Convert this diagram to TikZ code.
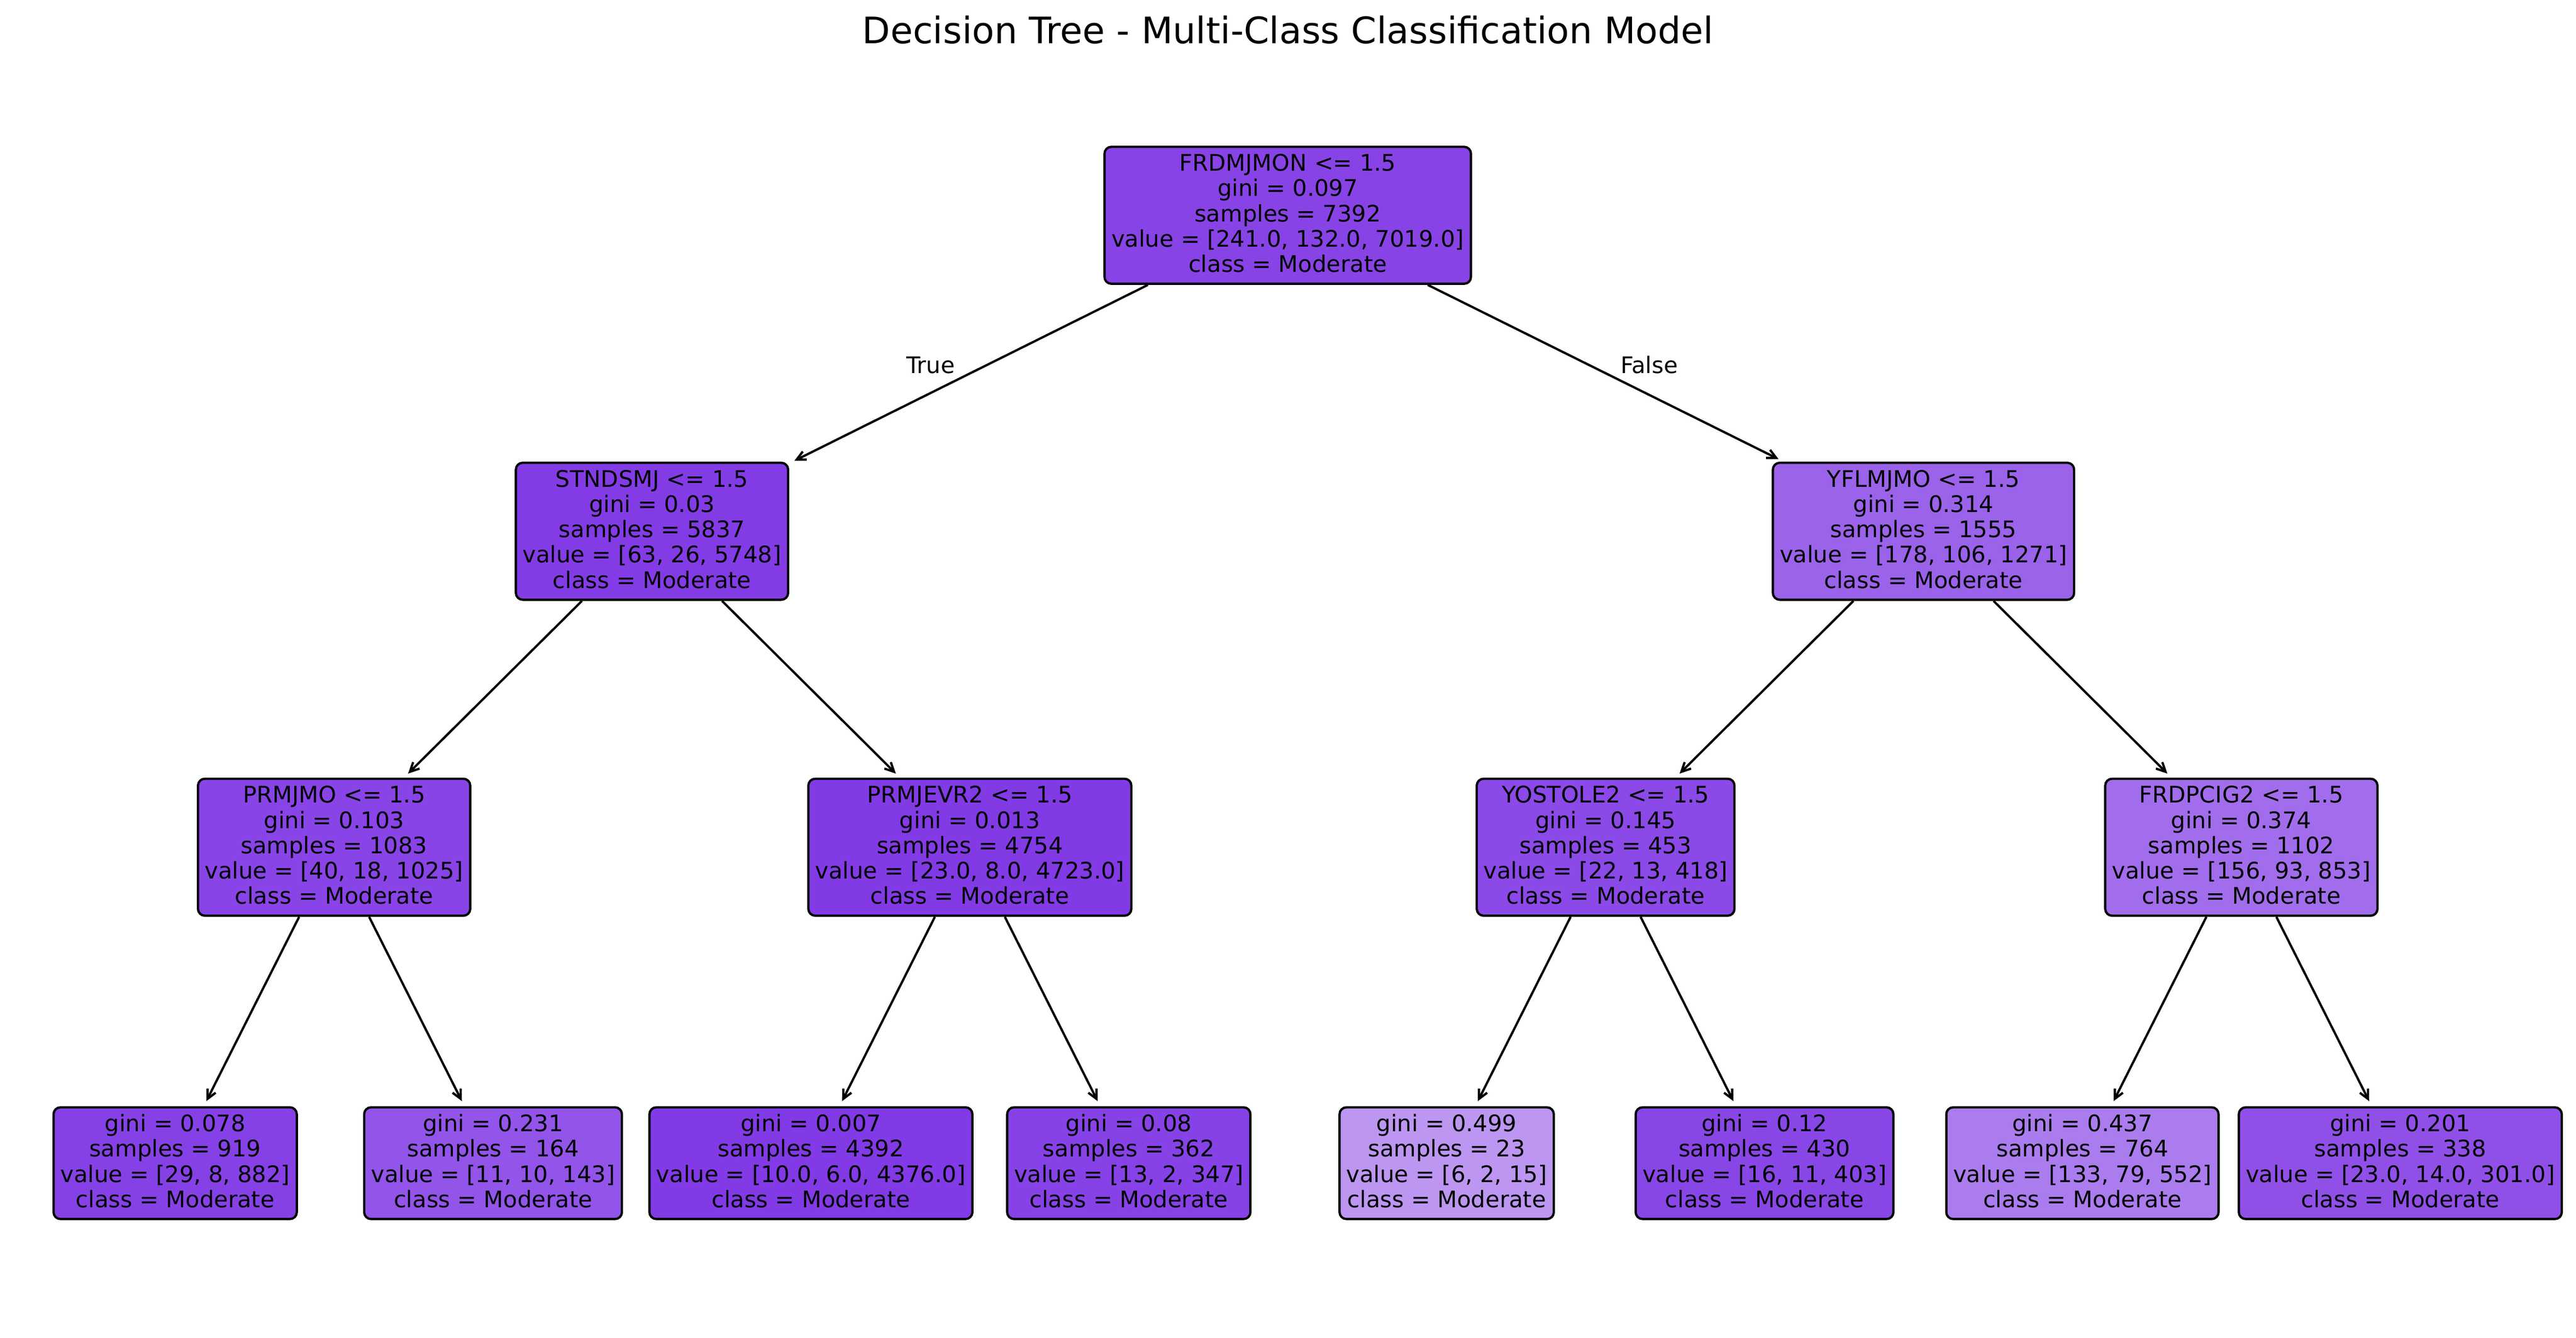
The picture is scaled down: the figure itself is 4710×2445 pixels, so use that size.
\documentclass[tikz,border=0pt]{standalone}
\usepackage{fontspec}
\setmainfont{DejaVu Sans}
\usetikzlibrary{arrows.meta,calc}
\definecolor{cRoot}{RGB}{136,67,230}
\definecolor{cSa}{RGB}{131,60,229}
\definecolor{cSb}{RGB}{155,98,234}
\definecolor{cTa}{RGB}{136,68,230}
\definecolor{cTb}{RGB}{130,58,229}
\definecolor{cTc}{RGB}{139,73,231}
\definecolor{cTd}{RGB}{162,109,236}
\definecolor{cLa}{RGB}{134,65,230}
\definecolor{cLb}{RGB}{146,84,233}
\definecolor{cLc}{RGB}{129,58,229}
\definecolor{cLd}{RGB}{134,66,230}
\definecolor{cLe}{RGB}{188,150,241}
\definecolor{cLf}{RGB}{137,70,231}
\definecolor{cLg}{RGB}{171,124,238}
\definecolor{cLh}{RGB}{144,80,232}
\newcommand{\tsTop}{\rule{0pt}{7.6pt}}
\newcommand{\tsBot}{\rule[-2.1pt]{0pt}{2.1pt}}
\tikzset{
  treebox/.style={draw=black, line width=1pt, rounded corners=3pt,
    inner xsep=3pt, inner ysep=3pt, align=center,
    font=\fontsize{10}{11.1}\selectfont, text=black},
  treeedge/.style={line width=1pt, -{Straight Barb[length=4pt,width=4pt]},
    shorten >=2.5pt},
  sidelabel/.style={inner sep=0pt, font=\fontsize{10}{12}\selectfont}
}
\begin{document}
\begin{tikzpicture}[x=0.24pt,y=-0.24pt]
\useasboundingbox (0,0) rectangle (4710,2445);
\node[font=\fontsize{16}{19}\selectfont, anchor=base, inner sep=0pt] (title) at (2355,80)
  {Decision Tree - Multi-Class Classification Model};
% root
\node[treebox, fill=cRoot] (root) at (2354.5,393.6)
  {\tsTop FRDMJMON <= 1.5\\gini = 0.097\\samples = 7392\\value = [241.0, 132.0, 7019.0]\\class = Moderate\tsBot};
% level 1
\node[treebox, fill=cSa] (sa) at (1192.1,971.2)
  {\tsTop STNDSMJ <= 1.5\\gini = 0.03\\samples = 5837\\value = [63, 26, 5748]\\class = Moderate\tsBot};
\node[treebox, fill=cSb] (sb) at (3516.9,971.2)
  {\tsTop YFLMJMO <= 1.5\\gini = 0.314\\samples = 1555\\value = [178, 106, 1271]\\class = Moderate\tsBot};
% level 2
\node[treebox, fill=cTa] (ta) at (610.9,1548.8)
  {\tsTop PRMJMO <= 1.5\\gini = 0.103\\samples = 1083\\value = [40, 18, 1025]\\class = Moderate\tsBot};
\node[treebox, fill=cTb] (tb) at (1773.3,1548.8)
  {\tsTop PRMJEVR2 <= 1.5\\gini = 0.013\\samples = 4754\\value = [23.0, 8.0, 4723.0]\\class = Moderate\tsBot};
\node[treebox, fill=cTc] (tc) at (2935.7,1548.8)
  {\tsTop YOSTOLE2 <= 1.5\\gini = 0.145\\samples = 453\\value = [22, 13, 418]\\class = Moderate\tsBot};
\node[treebox, fill=cTd] (td) at (4098.1,1548.8)
  {\tsTop FRDPCIG2 <= 1.5\\gini = 0.374\\samples = 1102\\value = [156, 93, 853]\\class = Moderate\tsBot};
% leaves
\node[treebox, fill=cLa] (la) at (320.3,2126.4)
  {\tsTop gini = 0.078\\samples = 919\\value = [29, 8, 882]\\class = Moderate\tsBot};
\node[treebox, fill=cLb] (lb) at (901.5,2126.4)
  {\tsTop gini = 0.231\\samples = 164\\value = [11, 10, 143]\\class = Moderate\tsBot};
\node[treebox, fill=cLc] (lc) at (1482.7,2126.4)
  {\tsTop gini = 0.007\\samples = 4392\\value = [10.0, 6.0, 4376.0]\\class = Moderate\tsBot};
\node[treebox, fill=cLd] (ld) at (2063.9,2126.4)
  {\tsTop gini = 0.08\\samples = 362\\value = [13, 2, 347]\\class = Moderate\tsBot};
\node[treebox, fill=cLe] (le) at (2645.1,2126.4)
  {\tsTop gini = 0.499\\samples = 23\\value = [6, 2, 15]\\class = Moderate\tsBot};
\node[treebox, fill=cLf] (lf) at (3226.3,2126.4)
  {\tsTop gini = 0.12\\samples = 430\\value = [16, 11, 403]\\class = Moderate\tsBot};
\node[treebox, fill=cLg] (lg) at (3807.5,2126.4)
  {\tsTop gini = 0.437\\samples = 764\\value = [133, 79, 552]\\class = Moderate\tsBot};
\node[treebox, fill=cLh] (lh) at (4388.7,2126.4)
  {\tsTop gini = 0.201\\samples = 338\\value = [23.0, 14.0, 301.0]\\class = Moderate\tsBot};
% edges
\draw[treeedge] (root) -- (sa);
\draw[treeedge] (root) -- (sb);
\draw[treeedge] (sa) -- (ta);
\draw[treeedge] (sa) -- (tb);
\draw[treeedge] (sb) -- (tc);
\draw[treeedge] (sb) -- (td);
\draw[treeedge] (ta) -- (la);
\draw[treeedge] (ta) -- (lb);
\draw[treeedge] (tb) -- (lc);
\draw[treeedge] (tb) -- (ld);
\draw[treeedge] (tc) -- (le);
\draw[treeedge] (tc) -- (lf);
\draw[treeedge] (td) -- (lg);
\draw[treeedge] (td) -- (lh);
% True / False labels
\node[sidelabel, anchor=base east, xshift=-6.36pt] (truelbl) at ($(root)!0.5!(sa)$) {True};
\node[sidelabel, anchor=base west, xshift=6.36pt] (falselbl) at ($(root)!0.5!(sb)$) {False};
\end{tikzpicture}
\end{document}
